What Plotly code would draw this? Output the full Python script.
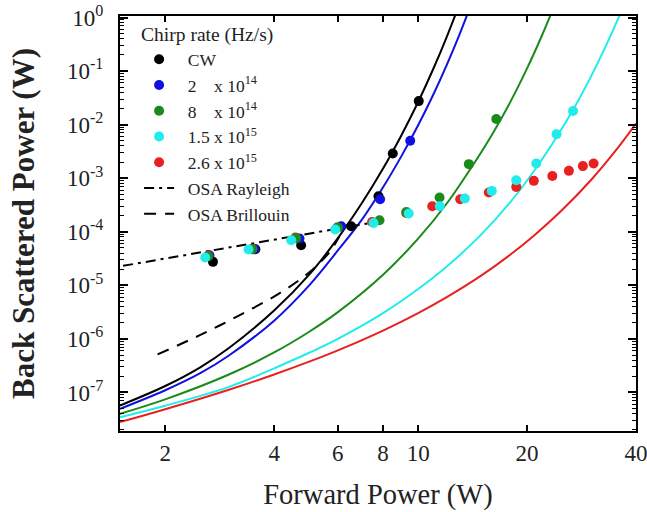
import plotly.graph_objects as go

# ---------------- data ----------------
# measured points: forward power (W) / back-scattered power (W)
cw_x = [2.71, 3.55, 4.75, 6.53, 7.77, 8.51, 10.04]
cw_y = [2.74e-5, 4.7e-5, 5.6e-5, 1.27e-4, 4.61e-4, 2.89e-3, 2.75e-2]

c2e14_x = [2.65, 3.53, 4.70, 6.13, 7.85, 9.51]
c2e14_y = [3.64e-5, 4.71e-5, 7.46e-5, 1.27e-4, 4.05e-4, 5.0e-3]

c8e14_x = [2.63, 3.48, 4.60, 6.00, 7.82, 9.28, 11.46, 13.81, 16.44]
c8e14_y = [3.5e-5, 4.7e-5, 7.6e-5, 1.2e-4, 1.64e-4, 2.34e-4, 4.36e-4, 1.83e-3, 1.27e-2]

c15e15_x = [2.58, 3.40, 4.46, 5.90, 7.53, 9.42, 11.48, 13.46, 15.98, 18.67, 21.21, 24.13, 26.8]
c15e15_y = [3.30e-5, 4.65e-5, 6.94e-5, 1.10e-4, 1.46e-4, 2.19e-4, 3.0e-4, 4.18e-4, 5.79e-4,
            9.18e-4, 1.88e-3, 6.64e-3, 1.80e-2]

c26e15_x = [2.63, 3.48, 4.58, 5.98, 7.46, 9.27, 10.94, 13.07, 15.68, 18.67, 20.88, 23.49,
            26.10, 28.53, 30.54]
c26e15_y = [3.6e-5, 4.8e-5, 7.8e-5, 1.2e-4, 1.52e-4, 2.25e-4, 3.0e-4, 4.05e-4, 5.41e-4,
            6.88e-4, 8.91e-4, 1.10e-3, 1.37e-3, 1.68e-3, 1.88e-3]

# model curves
fit_cw_x = [1.5, 2, 2.5, 3, 4, 5, 6, 7, 8, 9, 10, 11, 12, 13]
fit_cw_y = [5.71e-8, 1.32e-7, 2.95e-7, 6.76e-7, 3.39e-6, 1.58e-5, 7.59e-5, 3.47e-4,
            1.51e-3, 6.41e-3, 2.64e-2, 0.108, 0.437, 1.75]

fit_2e14_x = [1.5, 2, 2.5, 3, 4, 5, 6, 7, 8, 9, 10, 11, 12, 13, 14]
fit_2e14_y = [4.95e-8, 1.10e-7, 2.29e-7, 4.90e-7, 2.19e-6, 1.0e-5, 4.47e-5, 1.70e-4,
              6.76e-4, 2.61e-3, 9.71e-3, 3.58e-2, 0.131, 0.476, 1.72]

fit_8e14_x = [1.5, 2, 3, 4, 5, 6, 8, 10, 12, 14, 16, 18, 20, 22, 24]
fit_8e14_y = [4.0e-8, 7.43e-8, 2.16e-7, 5.58e-7, 1.36e-6, 3.16e-6, 1.58e-5, 7.45e-5,
              3.37e-4, 1.55e-3, 6.5e-3, 2.69e-2, 0.112, 0.466, 1.91]

fit_15e15_x = [1.5, 2, 3, 4, 5, 6, 8, 10, 12, 15, 18, 21, 24, 27, 30, 33, 36, 38]
fit_15e15_y = [3.45e-8, 5.65e-8, 1.27e-7, 2.82e-7, 5.50e-7, 1.0e-6, 3.02e-6, 8.51e-6,
               2.24e-5, 9.12e-5, 3.6e-4, 1.42e-3, 5.5e-3, 2.06e-2, 7.80e-2, 0.292, 1.08, 2.59]

fit_26e15_x = [1.5, 2, 3, 4, 5, 6, 8, 10, 12, 15, 18, 21, 25, 30, 35, 40]
fit_26e15_y = [2.79e-8, 4.85e-8, 1.12e-7, 2.16e-7, 3.75e-7, 6.10e-7, 1.43e-6, 3.03e-6,
               6.01e-6, 1.55e-5, 3.76e-5, 8.71e-5, 2.54e-4, 9.14e-4, 3.16e-3, 1.05e-2]

rayleigh_x = [1.53, 7.43]
rayleigh_y = [2.31e-5, 1.47e-4]

brillouin_x = [1.905, 2.485, 3.205, 4.135, 5.006, 5.685, 6.06]
brillouin_y = [5.13e-7, 1.16e-6, 2.75e-6, 7.08e-6, 1.75e-5, 4.14e-5, 8.24e-5]

x_ticks = [2, 4, 6, 8, 10, 20, 40]
y_ticks = [1, 1e-1, 1e-2, 1e-3, 1e-4, 1e-5, 1e-6, 1e-7]
y_ticktext = ["10<sup>0</sup>", "10<sup>-1</sup>", "10<sup>-2</sup>", "10<sup>-3</sup>",
              "10<sup>-4</sup>", "10<sup>-5</sup>", "10<sup>-6</sup>", "10<sup>-7</sup>"]
y_minor = [m * 10.0 ** e for e in range(-8, 0) for m in range(2, 10)]

NB = "\u00a0\u00a0"  # small lead-in so the legend text sits where the reference puts it
legend_names = [NB + "CW",
                NB + "2\u00a0\u00a0\u00a0\u00a0x 10<sup>14</sup>",
                NB + "8\u00a0\u00a0\u00a0\u00a0x 10<sup>14</sup>",
                NB + "1.5 x 10<sup>15</sup>",
                NB + "2.6 x 10<sup>15</sup>",
                NB + "OSA Rayleigh", NB + "OSA Brillouin"]

# ---------------- styling ----------------
FONT = "Liberation Serif, Times New Roman, serif"
C_BLACK = "#000000"
C_BLUE = "#1010e0"
C_GREEN = "#1a8a1a"
C_CYAN = "#20ecec"
C_RED = "#e82020"
TXT = "#222222"

fig = go.Figure()

curves = [(fit_cw_x, fit_cw_y, C_BLACK), (fit_2e14_x, fit_2e14_y, C_BLUE),
          (fit_8e14_x, fit_8e14_y, C_GREEN), (fit_15e15_x, fit_15e15_y, C_CYAN),
          (fit_26e15_x, fit_26e15_y, C_RED)]
for cx, cy, col in curves:
    fig.add_trace(go.Scatter(x=cx, y=cy, mode="lines", showlegend=False,
                             line=dict(color=col, width=2, shape="spline", smoothing=1.0),
                             hoverinfo="skip"))

fig.add_trace(go.Scatter(x=rayleigh_x, y=rayleigh_y, mode="lines", name=legend_names[5],
                         legendrank=6, line=dict(color="black", width=2, dash="10px,5px,3px,5px")))
fig.add_trace(go.Scatter(x=brillouin_x, y=brillouin_y, mode="lines", name=legend_names[6],
                         legendrank=7, line=dict(color="black", width=2, dash="12px,9px",
                                                 shape="spline")))

points = [(cw_x, cw_y, C_BLACK, 0), (c2e14_x, c2e14_y, C_BLUE, 1),
          (c26e15_x, c26e15_y, C_RED, 4), (c8e14_x, c8e14_y, C_GREEN, 2),
          (c15e15_x, c15e15_y, C_CYAN, 3)]
for px, py, col, idx in points:
    fig.add_trace(go.Scatter(x=px, y=py, mode="markers", name=legend_names[idx],
                             legendrank=idx + 1,
                             marker=dict(color=col, size=10, line=dict(width=0))))

fig.update_layout(
    width=647, height=512,
    margin=dict(l=120, r=11, t=16, b=81, autoexpand=False),
    paper_bgcolor="white", plot_bgcolor="white",
    font=dict(family=FONT, color=TXT, size=18),
    showlegend=True,
    legend=dict(x=0.037, y=1.0, xanchor="left", yanchor="top",
                bgcolor="rgba(0,0,0,0)", borderwidth=0,
                font=dict(family=FONT, size=17.5, color=TXT),
                title=dict(text="Chirp rate (Hz/s)", font=dict(family=FONT, size=19.5)),
                itemwidth=30, traceorder="normal"),
)

fig.update_xaxes(
    type="log", range=[0.1761, 1.6021], automargin=False,
    tickmode="array", tickvals=x_ticks, ticktext=[str(v) for v in x_ticks],
    ticks="inside", ticklen=6, tickwidth=1.5, tickcolor="black",
    showline=True, linewidth=2, linecolor="black", mirror="ticks",
    showgrid=False, zeroline=False, ticklabeloverflow="allow",
    tickfont=dict(family=FONT, size=23, color=TXT),
    ticklabelstandoff=0,
    title=dict(text="Forward Power (W)", font=dict(family=FONT, size=28.5, color=TXT),
               standoff=19),
)
fig.update_yaxes(
    type="log", range=[-7.72, 0.028], automargin=False,
    tickmode="array", tickvals=y_ticks, ticktext=y_ticktext,
    ticks="inside", ticklen=8, tickwidth=1.5, tickcolor="black",
    minor=dict(tickmode="array", tickvals=y_minor, ticks="inside", ticklen=4,
               tickwidth=1, tickcolor="black", showgrid=False),
    showline=True, linewidth=2, linecolor="black", mirror="ticks",
    showgrid=False, zeroline=False, ticklabeloverflow="allow",
    tickfont=dict(family=FONT, size=23, color=TXT),
    ticklabelstandoff=10,
    title=dict(text="<b>Back Scattered Power (W)</b>",
               font=dict(family=FONT, size=31, color=TXT), standoff=23),
)

# remove the default 8 px page margin so the figure sits at the window's corner
fig.write_html("out.html", config={"displayModeBar": False},
               post_script="document.body.style.margin='0';document.body.style.padding='0';")
